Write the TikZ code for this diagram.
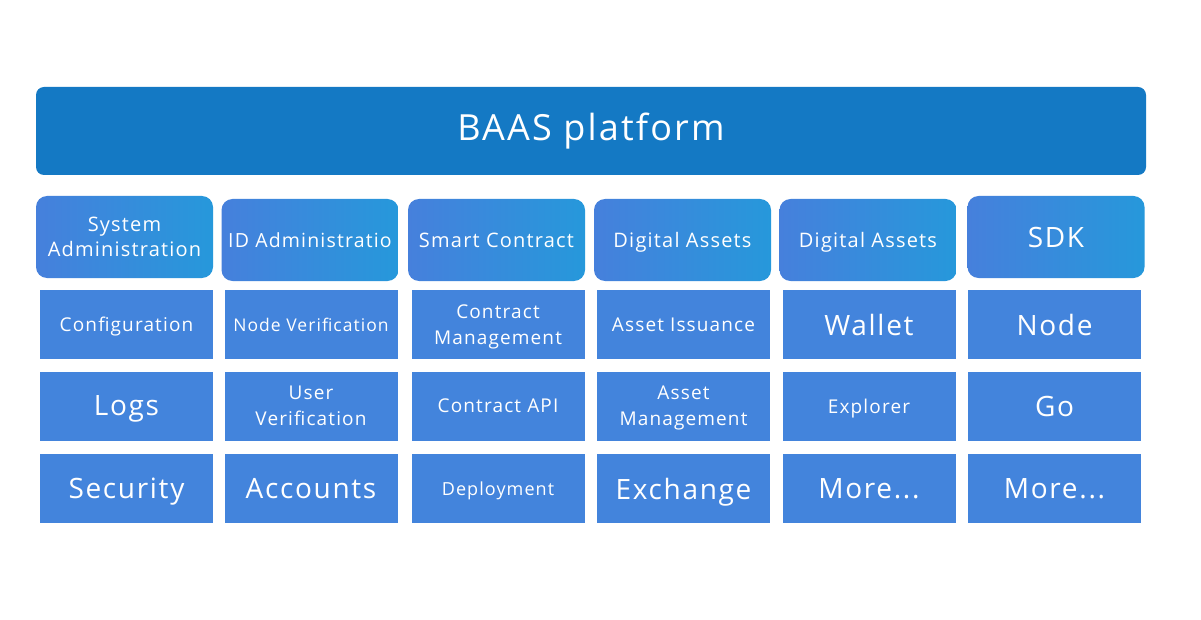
\documentclass[tikz,border=0pt]{standalone}
\usepackage{xcolor}
\usepackage{fontspec}
\setmainfont{Open Sans}[LetterSpace=6]
\usepackage{tikz}
\usetikzlibrary{positioning}
\definecolor{baasbanner}{HTML}{1479C4}
\definecolor{baasleft}{HTML}{4680DC}
\definecolor{baasright}{HTML}{2698DB}
\definecolor{baascell}{HTML}{4384DC}

\begin{document}
\begin{tikzpicture}[
    x=1pt, y=-1pt,
    banner/.style={rectangle, rounded corners=8pt, fill=baasbanner, minimum width=1110pt, minimum height=88pt, text=white, font=\fontsize{36}{40}\selectfont},
    head/.style={rectangle, rounded corners=11pt, left color=baasleft, right color=baasright, minimum width=177pt, minimum height=82pt, text=white, align=center, inner sep=1pt, text depth=0pt, font=\fontsize{#1}{25}\selectfont},
    head/.default=20,
    cell/.style={rectangle, fill=baascell, minimum width=173pt, minimum height=69pt, text=white, align=center, inner sep=1pt, text depth=0pt, font=\fontsize{#1}{26}\selectfont},
    cell/.default=19,
]
\useasboundingbox[fill=white] (0,0) rectangle (1201,620);

\node[banner] (baas) at (591,131) {BAAS platform};

% column heads
\node[head] (sysadm) at (124.5,237) {System\\Administration};
\node[head=19.5] (idadm) at (310,240) {ID Administratio};
\node[head] (smart) at (496.5,240) {Smart Contract};
\node[head] (digital) at (682.5,240) {Digital Assets};
\node[head] (digitalb) at (868,240) {Digital Assets};
\node[head=28] (sdk) at (1056,237) {SDK};

% first row
\node[cell] (config) at (126.5,324.5) {Configuration};
\node[cell=17.5] (nodever) at (311,324.5) {Node Verification};
\node[cell] (contmgmt) at (498,324.5) {Contract\\Management};
\node[cell] (issue) at (683.5,324.5) {Asset Issuance};
\node[cell=28] (wallet) at (869,324.5) {Wallet};
\node[cell=28] (node) at (1054.5,324.5) {Node};

% second row
\node[cell=28] (logs) at (126.5,406) {Logs};
\node[cell] (userver) at (311,406) {User\\Verification};
\node[cell] (contapi) at (498,406) {Contract API};
\node[cell] (assetmgmt) at (683.5,406) {Asset\\Management};
\node[cell] (explorer) at (869,406) {Explorer};
\node[cell=28] (go) at (1054.5,406) {Go};

% third row
\node[cell=28] (security) at (126.5,488.5) {Security};
\node[cell=28] (accounts) at (311,488.5) {Accounts};
\node[cell=18] (deploy) at (498,488.5) {Deployment};
\node[cell=28] (exchange) at (683.5,488.5) {Exchange};
\node[cell=28] (more) at (869,488.5) {More...};
\node[cell=28] (moreb) at (1054.5,488.5) {More...};
\end{tikzpicture}
\end{document}
